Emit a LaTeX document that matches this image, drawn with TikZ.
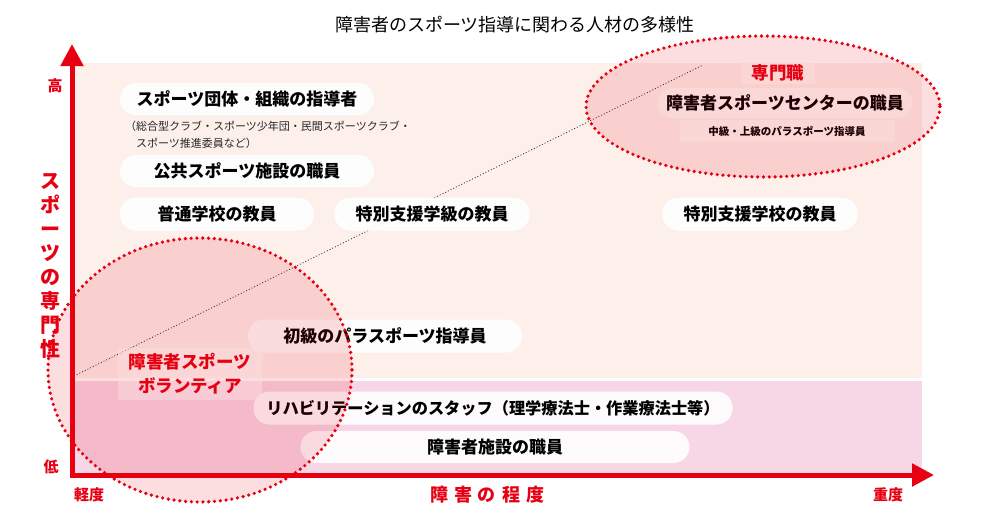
\documentclass[tikz,border=0pt]{standalone}
\usepackage{fontspec}
\setmainfont{Noto Sans CJK JP}
\usetikzlibrary{arrows.meta}
\definecolor{jred}{HTML}{E60012}
\definecolor{peach}{HTML}{FDF0EA}
\definecolor{pinkbg}{HTML}{F7D6E6}
\tikzset{
  pill/.style={rectangle, rounded corners=16pt, fill=white, fill opacity=0.92, text opacity=1,
    minimum height=32pt, inner sep=0pt, font=\fontsize{17}{19}\selectfont\bfseries, text=black},
  softbox/.style={rectangle, fill=white, fill opacity=0.45, text opacity=1, inner sep=0pt},
  zone/.style={draw=jred, line width=3.6pt, dash pattern=on 0pt off 5.8pt, line cap=round,
    fill=jred, fill opacity=0.13},
  axis/.style={draw=jred, line width=5pt, -{Triangle[length=22pt,width=22pt]}},
  redlab/.style={text=jred, font=\fontsize{15}{17}\selectfont\bfseries, inner sep=0pt},
}
\begin{document}
\begin{tikzpicture}[x=1pt,y=-1pt]
\useasboundingbox (0,0) rectangle (1000,527);
% backgrounds
\fill[peach] (74,63) rectangle (922,378);
\fill[pinkbg] (74,381) rectangle (922,473);
% title
\node[inner sep=0pt, font=\fontsize{18}{20}\selectfont] (title) at (515,25) {障害者のスポーツ指導に関わる人材の多様性};
% diagonal dotted
\coordinate (d0) at (74,376);
\coordinate (d1) at (703,65);
\draw[black!80, line width=0.8pt, dash pattern=on 1pt off 2pt] (d0) -- (d1);
% pills
\node[pill, minimum width=254pt] (p1) at (247,99) {スポーツ団体・組織の指導者};
\node[align=left, anchor=west, inner sep=0pt, font=\fontsize{11}{17}\selectfont, text=black!85] (sub) at (125,135)
  {（総合型クラブ・スポーツ少年団・民間スポーツクラブ・\\\hspace*{1em}スポーツ推進委員など）};
\node[pill, minimum width=254pt] (p2) at (247,171) {公共スポーツ施設の職員};
\node[pill, minimum width=194pt, minimum height=33pt] (p3) at (217,214) {普通学校の教員};
\node[pill, minimum width=195pt, minimum height=33pt] (p4) at (432,214) {特別支援学級の教員};
\node[pill, minimum width=195pt, minimum height=33pt] (p5) at (760,214) {特別支援学校の教員};
\node[pill, minimum width=274pt, minimum height=33pt] (p7) at (385,336) {初級のパラスポーツ指導員};
\node[pill, minimum width=479pt, minimum height=33pt, font=\fontsize{16.2}{18}\selectfont\bfseries] (p8) at (493,408) {リハビリテーションのスタッフ（理学療法士・作業療法士等）};
\node[pill, minimum width=389pt] (p9) at (495,447) {障害者施設の職員};
% top-right group
\node[softbox, minimum width=73pt, minimum height=21pt] (spbox) at (778,73) {};
\node[redlab, font=\fontsize{17.5}{19}\selectfont\bfseries] (sp) at (778,73) {専門職};
\node[pill, minimum width=255pt, minimum height=30pt, fill opacity=0.6] (p6) at (785,103) {障害者スポーツセンターの職員};
\node[softbox, minimum width=215pt, minimum height=22pt, font=\fontsize{10.5}{12}\selectfont\bfseries] (mid) at (787,131) {中級・上級のパラスポーツ指導員};
% volunteer box
\node[softbox, fill opacity=0.5, minimum width=144pt, minimum height=52pt, align=center,
  font=\fontsize{17.5}{24}\selectfont\bfseries, text=jred] (vol) at (190,374) {障害者スポーツ\\ボランティア};
% zones
\draw[zone] (763,106.5) ellipse [x radius=177, y radius=70.5];
\draw[zone] (200,370) ellipse [x radius=152, y radius=132];
% axes
\coordinate (ytip) at (72,44);
\coordinate (xtip) at (934,475);
\coordinate (o1) at (72,477.5);
\coordinate (o2) at (69.5,475);
\draw[axis] (o1) -- (ytip);
\draw[axis] (o2) -- (xtip);
% axis labels
\node[redlab] (hi) at (55,86) {高};
\node[redlab] (lo) at (51,467) {低};
\node[redlab, font=\fontsize{20}{24}\selectfont\bfseries, align=center] (ylab) at (50,266)
  {ス\\ポ\\ー\\ツ\\の\\専\\門\\性};
\node[redlab] (light) at (89,495) {軽度};
\node[redlab] (heavy) at (888,495) {重度};
\node[redlab, font=\fontsize{18}{20}\selectfont\bfseries] (xlab) at (487,495)
  {障\hspace{6pt}害\hspace{6pt}の\hspace{6pt}程\hspace{6pt}度};
\end{tikzpicture}
\end{document}
